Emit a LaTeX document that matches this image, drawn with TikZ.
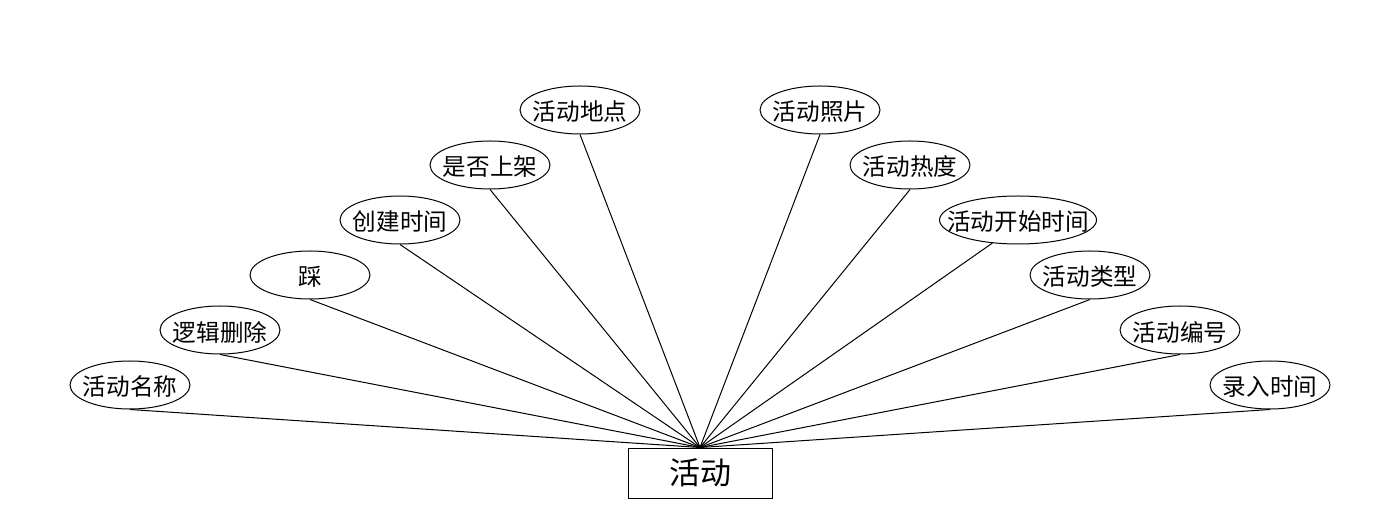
\documentclass[tikz,border=0pt]{standalone}
\usepackage{fontspec}
\newfontfamily\cjk{Noto Sans CJK SC}
\usetikzlibrary{shapes,positioning,calc}

\tikzset{
    attr/.style={draw, ellipse, line width=0.5pt, minimum width=60pt, minimum height=24pt, inner sep=0pt},
    attrtext/.style={font=\cjk\fontsize{11.8}{12}\selectfont, inner sep=0pt, yshift=-1pt},
    entity/.style={draw, rectangle, line width=0.5pt, minimum width=72pt, minimum height=25pt, inner sep=0pt, font=\cjk\fontsize{15.5}{16}\selectfont},
}

\begin{document}
\begin{tikzpicture}[x=0.5pt, y=-0.5pt]
    \useasboundingbox (0,0) rectangle (1400,528);

    % Entity
    \node[entity] (act) at (700,473) {活动};

    % Attributes, left side
    \node[attr, label={[attrtext]center:活动名称}] (name) at (130,385) {};
    \node[attr, label={[attrtext]center:逻辑删除}] (del) at (220,330) {};
    \node[attr, label={[attrtext]center:踩}] (down) at (310,275) {};
    \node[attr, label={[attrtext]center:创建时间}] (created) at (400,220) {};
    \node[attr, label={[attrtext]center:是否上架}] (listed) at (490,165) {};
    \node[attr, label={[attrtext]center:活动地点}] (place) at (580,110) {};

    % Attributes, right side
    \node[attr, label={[attrtext]center:活动照片}] (photo) at (820,110) {};
    \node[attr, label={[attrtext]center:活动热度}] (heat) at (910,165) {};
    \node[attr, minimum width=78.5pt, label={[attrtext]center:活动开始时间}] (start) at (1018,220) {};
    \node[attr, label={[attrtext]center:活动类型}] (type) at (1090,275) {};
    \node[attr, label={[attrtext]center:活动编号}] (num) at (1180,330) {};
    \node[attr, label={[attrtext]center:录入时间}] (entered) at (1270,385) {};

    % Links
    \draw[line width=0.5pt] (name.south) -- (act.north);
    \draw[line width=0.5pt] (del.south) -- (act.north);
    \draw[line width=0.5pt] (down.south) -- (act.north);
    \draw[line width=0.5pt] (created.south) -- (act.north);
    \draw[line width=0.5pt] (listed.south) -- (act.north);
    \draw[line width=0.5pt] (place.south) -- (act.north);
    \draw[line width=0.5pt] (photo.south) -- (act.north);
    \draw[line width=0.5pt] (heat.south) -- (act.north);
    \draw[line width=0.5pt] (start.222) -- (act.north);
    \draw[line width=0.5pt] (type.south) -- (act.north);
    \draw[line width=0.5pt] (num.south) -- (act.north);
    \draw[line width=0.5pt] (entered.south) -- (act.north);
\end{tikzpicture}
\end{document}
